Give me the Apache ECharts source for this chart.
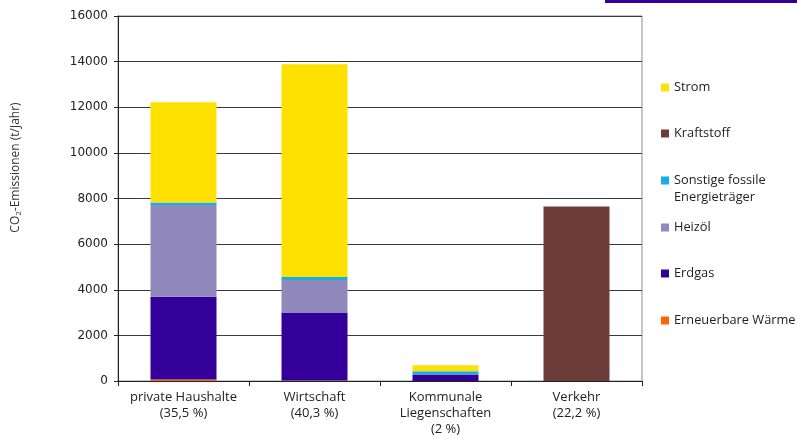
<!DOCTYPE html>
<html><head><meta charset="utf-8">
<script src="https://cdn.jsdelivr.net/npm/echarts@6/dist/echarts.min.js"></script>
<style>html,body{margin:0;padding:0;background:#fff}#c{width:797px;height:439px}</style>
</head><body><div id="c"></div>
<script>
const categories = ['private Haushalte\n(35,5 %)', 'Wirtschaft\n(40,3 %)', 'Kommunale\nLiegenschaften\n(2 %)', 'Verkehr\n(22,2 %)'];
const erneuerbare = [70, 20, 0, 0];
const erdgas = [3620, 2980, 280, 0];
const heizoel = [4020, 1430, 20, 0];
const sonstige = [110, 130, 130, 0];
const kraftstoff = [0, 0, 0, 7650];
const strom = [4400, 9330, 260, 0];
const yTicks = [0, 2000, 4000, 6000, 8000, 10000, 12000, 14000, 16000];

const seriesDefs = [
  {name: 'Erneuerbare Wärme', data: erneuerbare, color: '#FF6600'},
  {name: 'Erdgas', data: erdgas, color: '#330099'},
  {name: 'Heizöl', data: heizoel, color: '#9189BB'},
  {name: 'Sonstige fossile Energieträger', data: sonstige, color: '#14AEEA'},
  {name: 'Kraftstoff', data: kraftstoff, color: '#6E3D3A'},
  {name: 'Strom', data: strom, color: '#FFE100'}
];

const legendFont = {fontFamily: 'Open Sans', fontSize: 12.8, color: '#222'};
const legendTops = {'Strom': 81, 'Kraftstoff': 127, 'Sonstige fossile Energieträger': 155, 'Heizöl': 221, 'Erdgas': 267, 'Erneuerbare Wärme': 314};
const legendOrder = ['Strom', 'Kraftstoff', 'Sonstige fossile Energieträger', 'Heizöl', 'Erdgas', 'Erneuerbare Wärme'];
const legends = legendOrder.map(n => {
  const l = {
    data: [n], left: 661, top: legendTops[n], padding: 0, itemWidth: 8, itemHeight: 8,
    icon: 'rect', selectedMode: false, textStyle: Object.assign({}, legendFont)
  };
  if (n === 'Sonstige fossile Energieträger') {
    l.formatter = () => ' \nSonstige fossile\nEnergieträger';
    l.textStyle.lineHeight = 17;
  }
  return l;
});

const chart = echarts.init(document.getElementById('c'), null, {renderer: 'canvas'});
chart.setOption({
  animation: false,
  backgroundColor: '#fff',
  grid: {left: 118, right: 155, top: 16, bottom: 58, show: true, borderColor: '#8c8c8c', borderWidth: 1},
  legend: legends,
  graphic: [{type: 'rect', shape: {x: 605, y: 0, width: 192, height: 3}, style: {fill: '#330099'}}],
  xAxis: {
    type: 'category', data: categories,
    axisLine: {lineStyle: {color: '#222', width: 1}},
    axisTick: {show: true, length: 5, lineStyle: {color: '#222'}},
    axisLabel: {fontFamily: 'Open Sans', fontSize: 13, color: '#222', lineHeight: 16, margin: 8, interval: 0}
  },
  yAxis: {
    type: 'value', min: yTicks[0], max: yTicks[yTicks.length - 1], interval: 2000,
    name: 'CO{sub|2}-Emissionen (t/Jahr)', nameLocation: 'middle', nameGap: 95,
    nameTextStyle: {fontFamily: 'Open Sans', fontSize: 12, color: '#333', padding: [0, 0, 0, 62],
      rich: {sub: {fontFamily: 'Open Sans', fontSize: 8, color: '#333', verticalAlign: 'bottom', padding: [6, 0, 0, 0]}}},
    axisLine: {show: true, lineStyle: {color: '#222', width: 1}},
    axisTick: {show: true, length: 4, lineStyle: {color: '#222'}},
    axisLabel: {fontFamily: 'DejaVu Sans', fontSize: 12, color: '#222', margin: 10, formatter: v => String(v)},
    splitLine: {show: true, lineStyle: {color: '#3a3a3a', width: 1}}
  },
  series: seriesDefs.map(s => ({
    name: s.name, type: 'bar', stack: 'total', data: s.data, barWidth: 66,
    itemStyle: {color: s.color}
  }))
});
</script></body></html>
